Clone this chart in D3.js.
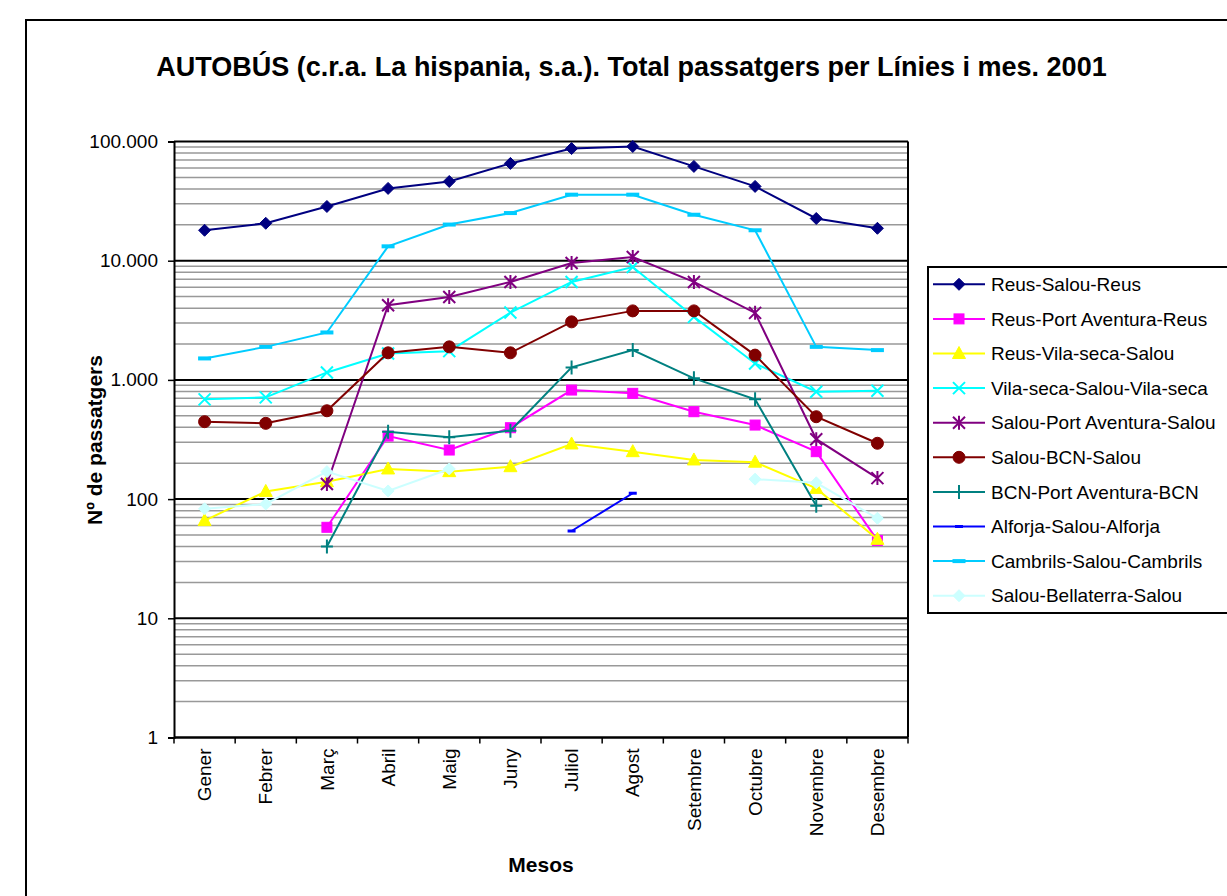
<!DOCTYPE html>
<html>
<head>
<meta charset="utf-8">
<script src="https://cdn.jsdelivr.net/npm/d3@7"></script>
<style>
  html, body { margin: 0; padding: 0; background: #fff; }
  svg { display: block; font-family: "Liberation Sans", Arial, sans-serif; }
</style>
</head>
<body>
<svg id="chart" width="1227" height="896"></svg>
<script>
// ---------- DATA ----------
const months = ["Gener","Febrer","Març","Abril","Maig","Juny","Juliol","Agost","Setembre","Octubre","Novembre","Desembre"];
const yTicks = [1, 10, 100, 1000, 10000, 100000];

const reusSalouReus        = [18000, 20600, 28500, 40400, 46200, 65500, 87300, 90800, 61800, 42000, 22600, 18700];
const reusPortAventuraReus = [null, null, 58, 338, 258, 397, 822, 771, 541, 418, 250, 45];
const reusVilasecaSalou    = [66, 116, 140, 179, 170, 187, 290, 250, 213, 204, 123, 46];
const vilasecaSalouVilaseca= [687, 714, 1155, 1667, 1742, 3673, 6635, 8850, 3380, 1374, 795, 811];
const salouPortAventuraSalou=[null, null, 134, 4230, 4965, 6635, 9570, 10740, 6635, 3650, 318, 150];
const salouBCNSalou        = [446, 432, 551, 1687, 1893, 1687, 3069, 3793, 3793, 1614, 491, 294];
const bcnPortAventuraBCN   = [null, null, 40, 367, 330, 375, 1273, 1778, 1030, 687, 88, null];
const alforjaSalouAlforja  = [null, null, null, null, null, null, 54, 112, null, null, null, null];
const cambrilsSalouCambrils= [1514, 1893, 2500, 13200, 20100, 25100, 35800, 35800, 24300, 18000, 1893, 1778];
const salouBellaterraSalou = [83, 91, 170, 117, 179, null, null, null, null, 147, 137, 69];

const seriesNames = ["Reus-Salou-Reus","Reus-Port Aventura-Reus","Reus-Vila-seca-Salou","Vila-seca-Salou-Vila-seca","Salou-Port Aventura-Salou","Salou-BCN-Salou","BCN-Port Aventura-BCN","Alforja-Salou-Alforja","Cambrils-Salou-Cambrils","Salou-Bellaterra-Salou"];
const seriesValues = [reusSalouReus, reusPortAventuraReus, reusVilasecaSalou, vilasecaSalouVilaseca, salouPortAventuraSalou, salouBCNSalou, bcnPortAventuraBCN, alforjaSalouAlforja, cambrilsSalouCambrils, salouBellaterraSalou];
const seriesColors = ["#000080","#FF00FF","#FFFF00","#00FFFF","#800080","#800000","#008080","#0000FF","#00CCFF","#CCFFFF"];
const seriesMarkers = ["diamond","square","triangle","x","star","circle","plus","dash","bar","diamond"];

// ---------- LAYOUT ----------
const svg = d3.select("#chart");
const plot = {left: 174, right: 908, top: 141.5, bottom: 737.5};

// outer border
svg.append("rect").attr("x", 26).attr("y", 20).attr("width", 1240).attr("height", 900)
  .attr("fill", "#fff").attr("stroke", "#000").attr("stroke-width", 2);

const x = d3.scaleBand().domain(months).range([plot.left, plot.right]);
const y = d3.scaleLog().domain([1, 100000]).range([plot.bottom, plot.top]);

// minor gridlines
const minor = [];
for (let d = 1; d < 100000; d *= 10) for (let k = 2; k <= 9; k++) minor.push(k * d);
svg.append("g").selectAll("line").data(minor).join("line")
  .attr("x1", plot.left).attr("x2", plot.right)
  .attr("y1", d => y(d)).attr("y2", d => y(d))
  .attr("stroke", "#999").attr("stroke-width", 1.5);
// major gridlines
svg.append("g").selectAll("line").data(yTicks).join("line")
  .attr("x1", plot.left).attr("x2", plot.right)
  .attr("y1", d => y(d)).attr("y2", d => y(d))
  .attr("stroke", "#000").attr("stroke-width", 2);
// plot border (right side)
svg.append("line").attr("x1", plot.right).attr("x2", plot.right).attr("y1", plot.top).attr("y2", plot.bottom)
  .attr("stroke", "#000").attr("stroke-width", 2);

// axes
const loc = d3.formatLocale({decimal: ",", thousands: ".", grouping: [3], currency: ["", ""]});
const fmt = loc.format(",");
const yAxis = svg.append("g").attr("transform", `translate(${plot.left},0)`)
  .call(d3.axisLeft(y).tickValues(yTicks).tickFormat(fmt).tickSize(6).tickPadding(10));
yAxis.select(".domain").attr("stroke-width", 2);
yAxis.selectAll(".tick line").attr("stroke-width", 1.5);
yAxis.selectAll("text").attr("font-size", 19).attr("fill", "#000").attr("font-family", "Liberation Sans, Arial, sans-serif");

const xAxisG = svg.append("g").attr("transform", `translate(0,${plot.bottom})`);
xAxisG.append("line").attr("x1", plot.left).attr("x2", plot.right).attr("stroke", "#000").attr("stroke-width", 2);
const bounds = months.map(m => x(m)).concat([plot.right]);
xAxisG.selectAll("line.tk").data(bounds).join("line").attr("class", "tk")
  .attr("x1", d => d).attr("x2", d => d).attr("y1", 0).attr("y2", 6)
  .attr("stroke", "#000").attr("stroke-width", 1.5);
xAxisG.selectAll("text").data(months).join("text")
  .attr("transform", d => `translate(${x(d) + x.bandwidth() / 2},11) rotate(-90)`)
  .attr("text-anchor", "end").attr("dy", "0.35em")
  .attr("font-size", 19).text(d => d);

// titles
svg.append("text").attr("x", 631.5).attr("y", 76).attr("text-anchor", "middle")
  .attr("font-size", 27).attr("font-weight", "bold").text("AUTOBÚS (c.r.a. La hispania, s.a.). Total passatgers per Línies i mes. 2001");
svg.append("text").attr("x", 541).attr("y", 872).attr("text-anchor", "middle")
  .attr("font-size", 21).attr("font-weight", "bold").text("Mesos");
svg.append("text").attr("transform", "translate(95,440) rotate(-90)").attr("text-anchor", "middle").attr("dy", "0.35em")
  .attr("font-size", 21).attr("font-weight", "bold").text("Nº de passatgers");

// markers
function marker(sel, type, color) {
  switch (type) {
    case "diamond": sel.append("path").attr("d", "M0,-6L6,0L0,6L-6,0Z").attr("fill", color).attr("stroke", color); break;
    case "square": sel.append("rect").attr("x", -5).attr("y", -5).attr("width", 10).attr("height", 10).attr("fill", color).attr("stroke", color); break;
    case "triangle": sel.append("path").attr("d", "M0,-7L6.5,5L-6.5,5Z").attr("fill", color).attr("stroke", color); break;
    case "x": sel.append("path").attr("d", "M-6,-6L6,6M-6,6L6,-6").attr("fill", "none").attr("stroke", color).attr("stroke-width", 2); break;
    case "star": sel.append("path").attr("d", "M-6,-6L6,6M-6,6L6,-6M0,-7L0,7").attr("fill", "none").attr("stroke", color).attr("stroke-width", 2); break;
    case "circle": sel.append("circle").attr("r", 6).attr("fill", color).attr("stroke", color); break;
    case "plus": sel.append("path").attr("d", "M-6,0L6,0M0,-7L0,7").attr("fill", "none").attr("stroke", color).attr("stroke-width", 2); break;
    case "dash": sel.append("rect").attr("x", -4).attr("y", -1.5).attr("width", 8).attr("height", 3).attr("fill", color); break;
    case "bar": sel.append("rect").attr("x", -6.5).attr("y", -2).attr("width", 13).attr("height", 4).attr("fill", color); break;
  }
}

// series
const line = d3.line().defined(d => d.v != null).x(d => x(d.m) + x.bandwidth() / 2).y(d => y(d.v));
seriesNames.forEach((name, i) => {
  const pts = months.map((m, j) => ({m, v: seriesValues[i][j]}));
  const g = svg.append("g");
  g.append("path").datum(pts).attr("d", line).attr("fill", "none")
    .attr("stroke", seriesColors[i]).attr("stroke-width", 2);
  g.selectAll("g.mk").data(pts.filter(d => d.v != null)).join("g").attr("class", "mk")
    .attr("transform", d => `translate(${x(d.m) + x.bandwidth() / 2},${y(d.v)})`)
    .each(function () { marker(d3.select(this), seriesMarkers[i], seriesColors[i]); });
});

// legend
const leg = svg.append("g");
leg.append("rect").attr("x", 928).attr("y", 267).attr("width", 340).attr("height", 346)
  .attr("fill", "#fff").attr("stroke", "#000").attr("stroke-width", 2);
const rowH = 346 / seriesNames.length;
seriesNames.forEach((name, i) => {
  const cy = 267 + rowH * (i + 0.5);
  const r = leg.append("g").attr("transform", `translate(0,${cy})`);
  r.append("line").attr("x1", 933).attr("x2", 985).attr("stroke", seriesColors[i]).attr("stroke-width", 2);
  const mg = r.append("g").attr("transform", "translate(959,0)");
  marker(mg, seriesMarkers[i], seriesColors[i]);
  r.append("text").attr("x", 991).attr("dy", "0.35em").attr("font-size", 19).text(name);
});
</script>
</body>
</html>
